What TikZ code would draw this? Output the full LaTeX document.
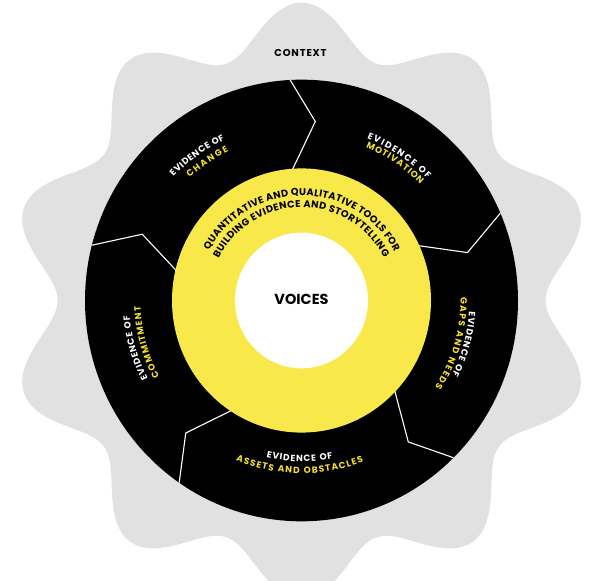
\documentclass[tikz,border=0pt]{standalone}
\usepackage{fontspec}
\usetikzlibrary{decorations.text}
\newfontfamily\lblfont{Poppins}[LetterSpace=8]
\newfontfamily\arcfont{Poppins}
\definecolor{ctxgray}{HTML}{E1E1E1}
\definecolor{ringyellow}{HTML}{F9E84A}
\definecolor{lblyellow}{HTML}{F5DF2E}
\tikzset{
  divider/.style={draw=white, line width=1.1pt, line join=miter},
  plaintext/.style={inner sep=0pt, font=\lblfont\bfseries},
}
% start angle, end angle, radius, format, text
\newcommand\arclabel[5]{%
  \path[decorate, decoration={text along path, text align=fit to path, text={|#4|#5}}]
    (#1:#3) arc[start angle=#1, end angle=#2, radius=#3];}
\newcommand\segW{\arcfont\bfseries\fontsize{9}{10}\selectfont\color{white}}
\newcommand\segY{\arcfont\bfseries\fontsize{9}{10}\selectfont\color{lblyellow}}
\newcommand\ringK{\arcfont\bfseries\fontsize{9.8}{12}\selectfont\color{black}}
\begin{document}
\begin{tikzpicture}[x=1pt,y=1pt]
\useasboundingbox (0,0) rectangle (595,581);
\begin{scope}[shift={(301.5,280.5)}]
  \begin{scope}[yscale=1.02]
    \fill[ctxgray] plot[domain=0:360, samples=400, smooth, variable=\t]
      ({\t}:{268+24*cos(10*(\t-90))}) -- cycle;
    \fill[black] (0,0) circle[radius=216.5];
    \draw[divider] (93:216.5) -- (85.5:176) -- (95:125);
    \draw[divider] (23.3:216.5) -- (15.8:172.5) -- (25.8:125);
    \draw[divider] (-45.4:216.5) -- (-52.4:175) -- (-42.5:125);
    \draw[divider] (235.6:216.5) -- (228.3:174) -- (238:125);
    \draw[divider] (165.5:216.5) -- (157.8:172) -- (167.9:125);
    \fill[ringyellow] (0,0) circle[radius=129.5];
    \fill[white] (0,0) circle[radius=66.5];
  \end{scope}
  \node[plaintext, font=\arcfont\bfseries\fontsize{14.5}{16}\selectfont] (voices) at (0,1) {VOICES};
  % ring text
  \arclabel{151.7}{27.6}{105}{\ringK}{QUANTITATIVE AND QUALITATIVE TOOLS FOR}
  \arclabel{153}{27.5}{93}{\ringK}{BUILDING EVIDENCE AND STORYTELLING}
  % change
  \arclabel{136}{115.5}{178}{\segW}{EVIDENCE OF}
  \arclabel{132.4}{116}{166}{\segY}{CHANGE}
  % motivation
  \arclabel{68}{44}{175}{\segW}{EVIDENCE OF}
  \arclabel{67.2}{44.3}{166}{\segY}{MOTIVATION}
  % gaps
  \arclabel{-3.8}{-26.4}{168}{\segW}{EVIDENCE OF}
  \arclabel{1}{-33}{159}{\segY}{GAPS AND NEEDS}
  % assets
  \arclabel{257.4}{281.2}{161}{\segW}{EVIDENCE OF}
  \arclabel{247.7}{291}{173}{\segY}{ASSETS AND OBSTACLES}
  % commitment
  \arclabel{207}{185}{172.5}{\segW}{EVIDENCE OF}
  \arclabel{208}{182}{161}{\segY}{COMMITMENT}
\end{scope}
\node[plaintext, font=\lblfont\bfseries\fontsize{10}{12}\selectfont] (context) at (300.5,528.5) {CONTEXT};
\end{tikzpicture}
\end{document}
